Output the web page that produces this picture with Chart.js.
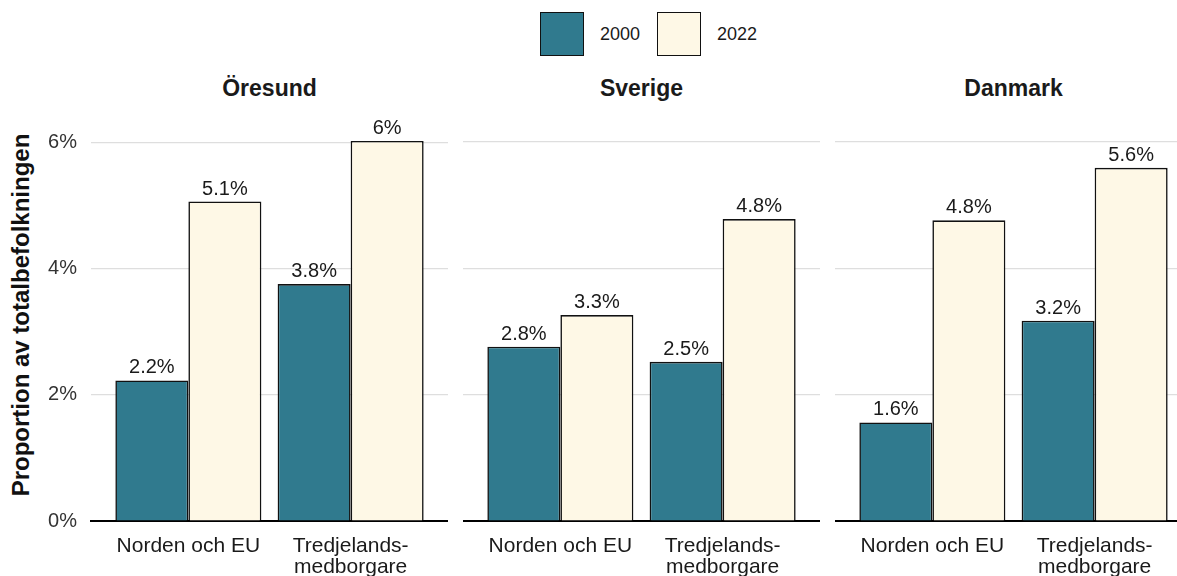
<!DOCTYPE html>
<html>
<head>
<meta charset="utf-8">
<script src="https://cdn.jsdelivr.net/npm/chart.js"></script>
<style>
body { margin: 0; background: #fff; font-family: 'Liberation Sans', Arial, sans-serif; }
#wrap { position: relative; width: 1177px; height: 576px; overflow: hidden; background: #fff; }
canvas { position: absolute; top: 100px; }
.facet { position: absolute; top: 77px; width: 357px; text-align: center; font-size: 23px; line-height: 23px; font-weight: bold; color: #1a1a1a; }
.key { position: absolute; top: 12px; width: 42px; height: 42px; border: 1.5px solid #111; }
.keytxt { position: absolute; top: 23px; font-size: 18px; line-height: 22px; color: #1a1a1a; }
#ytitle { position: absolute; left: 21px; top: 315px; width: 400px; margin-left: -200px; margin-top: -14px;
          text-align: center; font-size: 24px; line-height: 28px; font-weight: bold; color: #111;
          transform: rotate(-90deg); white-space: nowrap; }
</style>
</head>
<body>
<div id="wrap">
  <div class="key" id="key0" style="left:540px"></div>
  <div class="keytxt" id="txt0" style="left:600px"></div>
  <div class="key" id="key1" style="left:657px"></div>
  <div class="keytxt" id="txt1" style="left:717px"></div>
  <div class="facet" id="title0" style="left:91px"></div>
  <div class="facet" id="title1" style="left:463px"></div>
  <div class="facet" id="title2" style="left:835px"></div>
  <div id="ytitle">Proportion av totalbefolkningen</div>
  <canvas id="panel0" width="448" height="478" style="left:0px;top:98px"></canvas>
  <canvas id="panel1" width="357" height="476" style="left:463px"></canvas>
  <canvas id="panel2" width="357" height="476" style="left:835px"></canvas>
</div>
<script>
var regions = ['Öresund', 'Sverige', 'Danmark'];
var categories = ['Norden och EU', 'Tredjelands-\nmedborgare'];
var years = ['2000', '2022'];
var colors = ['#307a8e', '#fef8e6'];
// one row per region: [Norden och EU, Tredjelands-medborgare]
var values2000 = [[2.23, 3.76], [2.76, 2.52], [1.56, 3.17]];
var values2022 = [[5.07, 6.03], [3.26, 4.78], [4.76, 5.59]];
var yTicks = [0, 2, 4, 6];

var fontFamily = "'Liberation Sans', Arial, sans-serif";

function fmt(v) {
    return (Math.round(v * 10) / 10) + '%';
}

// value labels above each bar
var barLabels = {
    id: 'barLabels',
    afterDatasetsDraw: function(chart) {
        var ctx = chart.ctx;
        ctx.save();
        ctx.font = '20px ' + fontFamily;
        ctx.fillStyle = '#1a1a1a';
        ctx.textAlign = 'center';
        ctx.textBaseline = 'alphabetic';
        chart.data.datasets.forEach(function(ds, d) {
            chart.getDatasetMeta(d).data.forEach(function(bar, j) {
                ctx.fillText(fmt(ds.data[j].y), bar.x, bar.y - 7);
            });
        });
        ctx.restore();
    }
};

for (var k = 0; k < years.length; k++) {
    document.getElementById('key' + k).style.background = colors[k];
    document.getElementById('txt' + k).textContent = years[k];
}

function points(row) {
    return row.map(function(v, i) { return {x: i + 1, y: v}; });
}

regions.forEach(function(name, r) {
    document.getElementById('title' + r).textContent = name;
    var first = (r === 0);
    var ctx = document.getElementById('panel' + r).getContext('2d');
    new Chart(ctx, {
        type: 'bar',
        data: {
            datasets: [
                {label: years[0], data: points(values2000[r]), backgroundColor: colors[0], borderColor: '#111', borderWidth: 1.6},
                {label: years[1], data: points(values2022[r]), backgroundColor: colors[1], borderColor: '#111', borderWidth: 1.6}
            ]
        },
        options: {
            responsive: false,
            animation: false,
            categoryPercentage: 0.9,
            barPercentage: 1.0,
            layout: {padding: {top: 23, left: 0, right: 0, bottom: 0}},
            plugins: {legend: {display: false}, tooltip: {enabled: false}},
            scales: {
                x: {
                    type: 'linear',
                    min: 0.4,
                    max: 2.6,
                    offset: false,
                    grid: {display: false, offset: false},
                    border: {display: true, color: '#000', width: 2},
                    afterBuildTicks: function(s) {
                        s.ticks = categories.map(function(c, i) { return {value: i + 1}; });
                    },
                    afterFit: function(s) { s.height = 55; },
                    ticks: {
                        maxRotation: 0,
                        autoSkip: false,
                        padding: 7,
                        color: '#1a1a1a',
                        font: {family: fontFamily, size: 21, lineHeight: 1.0},
                        callback: function(v) { return categories[v - 1].split('\n'); }
                    }
                },
                y: {
                    min: 0,
                    max: 6.3,
                    afterBuildTicks: function(s) {
                        s.ticks = yTicks.map(function(v) { return {value: v}; });
                    },
                    afterFit: function(s) { s.width = first ? 91 : 0; },
                    grid: {
                        drawTicks: false,
                        lineWidth: 1.2,
                        color: function(c) { return c.tick && c.tick.value === 0 ? 'rgba(0,0,0,0)' : '#dedede'; }
                    },
                    border: {display: false},
                    ticks: {
                        display: first,
                        padding: 14,
                        color: '#333',
                        font: {family: fontFamily, size: 20},
                        callback: function(v) { return v + '%'; }
                    }
                }
            }
        },
        plugins: [barLabels]
    });
});
</script>
</body>
</html>
